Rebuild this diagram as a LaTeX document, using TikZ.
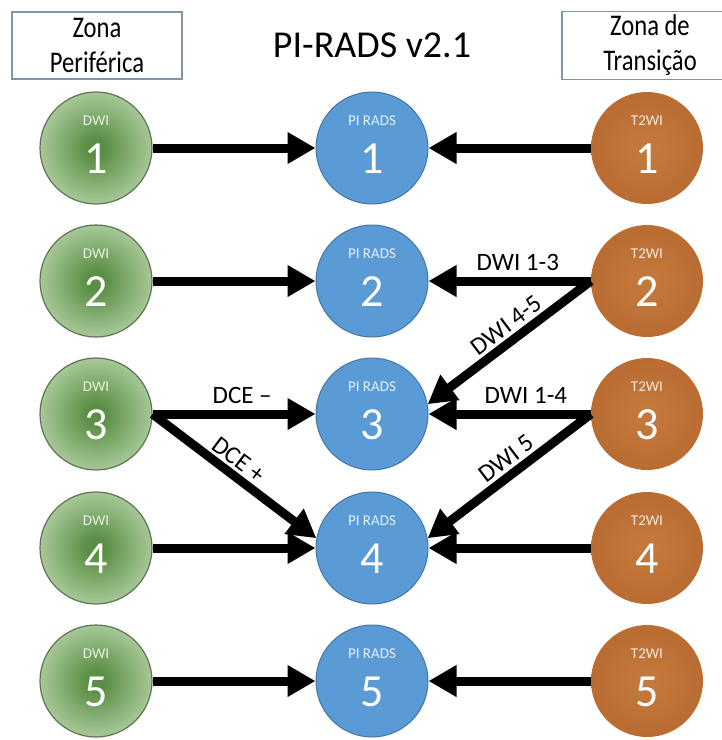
\documentclass[tikz,border=0pt]{standalone}
\usepackage{fontspec}
\setmainfont{Carlito}
\newfontfamily\narrowfont[FakeStretch=0.82]{Carlito}
\usetikzlibrary{arrows.meta}

\definecolor{gdark}{HTML}{5A8E44}
\definecolor{gmid}{HTML}{A3C593}
\definecolor{gpale}{HTML}{E8F1E1}
\definecolor{gline}{HTML}{5E7452}
\definecolor{bfill}{HTML}{5B9BD5}
\definecolor{bline}{HTML}{4475A3}
\definecolor{tlight}{HTML}{C47A3D}
\definecolor{tmid}{HTML}{B6672E}
\definecolor{tdark}{HTML}{94501F}
\definecolor{zline}{HTML}{8096A8}

\pgfdeclareradialshading{greenball}{\pgfpoint{0bp}{0bp}}{%
  color(0bp)=(gdark); color(4bp)=(gdark); color(24bp)=(gmid); color(44bp)=(gpale); color(100bp)=(gpale)}
\pgfdeclareradialshading{brownball}{\pgfpoint{0bp}{0bp}}{%
  color(0bp)=(tlight); color(34bp)=(tmid); color(50bp)=(tdark); color(100bp)=(tdark)}

\begin{document}
\begin{tikzpicture}[
  x=1pt, y=-1pt,
  ball/.style={circle, minimum size=112pt, inner sep=0pt},
  tag/.style={font=\fontsize{15}{15}\selectfont, text=white, yshift=27pt},
  num/.style={font=\fontsize{46}{46}\selectfont, text=white, yshift=-11pt},
  dwi/.style={ball, shading=greenball, draw=gline, line width=1.2pt,
              label={[tag, text=gpale]center:DWI}, label={[num]center:#1}},
  pirads/.style={ball, fill=bfill, draw=bline, line width=1pt,
                 label={[tag, text=white!85!bfill]center:PI RADS}, label={[num]center:#1}},
  tw/.style={ball, shading=brownball,
             label={[tag, text=white!85!tmid]center:T2WI}, label={[num]center:#1}},
  arr/.style={line width=9pt, -{Triangle[length=28pt, width=30pt]}},
  lbl/.style={font=\fontsize{25}{25}\selectfont, inner sep=2pt},
  zone/.style={draw=zline, line width=1.2pt, align=center, minimum height=67pt,
               font=\narrowfont\fontsize{30}{35}\selectfont},
]
\useasboundingbox (0,0) rectangle (722,740);
\clip (0,0) rectangle (722,740);

% headings
\node[zone, minimum width=170pt] (zp) at (97,45.5) {Zona\\Periférica};
\node[font=\fontsize{38}{38}\selectfont] (title) at (372,45) {PI-RADS v2.1};
\node[zone, minimum width=176pt] (zt) at (650,45.5) {Zona de\\Transição};

% peripheral zone
\node[dwi=1] (g1) at (96,148) {};
\node[dwi=2] (g2) at (96,281) {};
\node[dwi=3] (g3) at (96,414) {};
\node[dwi=4] (g4) at (96,548) {};
\node[dwi=5] (g5) at (96,681) {};

% final score
\node[pirads=1] (p1) at (372,148) {};
\node[pirads=2] (p2) at (372,281) {};
\node[pirads=3] (p3) at (372,414) {};
\node[pirads=4] (p4) at (372,548) {};
\node[pirads=5] (p5) at (372,681) {};

% transition zone
\node[tw=1] (t1) at (647,148) {};
\node[tw=2] (t2) at (647,281) {};
\node[tw=3] (t3) at (647,414) {};
\node[tw=4] (t4) at (647,548) {};
\node[tw=5] (t5) at (647,681) {};

\draw[arr] (g1) -- (p1);
\draw[arr] (g2) -- (p2);
\draw[arr] (g3) -- node[lbl, above=4pt, pos=0.55] {DCE –} (p3);
\draw[arr] (g3.east) -- node[lbl, sloped, above=1pt, pos=0.47] {DCE +} (p4.170);
\draw[arr] (g4) -- (p4);
\draw[arr] (g5) -- (p5);

\draw[arr] (t1) -- (p1);
\draw[arr] (t2.west) -- node[lbl, above=4pt, pos=0.45] {DWI 1-3} (p2);
\draw[arr] (t2.west) -- node[lbl, sloped, above=1pt, pos=0.46] {DWI 4-5} (p3.10);
\draw[arr] (t3.west) -- node[lbl, above=4pt, pos=0.4] {DWI 1-4} (p3);
\draw[arr] (t3.west) -- node[lbl, sloped, above=1pt, pos=0.46] {DWI 5} (p4.10);
\draw[arr] (t4) -- (p4);
\draw[arr] (t5) -- (p5);
\end{tikzpicture}
\end{document}
